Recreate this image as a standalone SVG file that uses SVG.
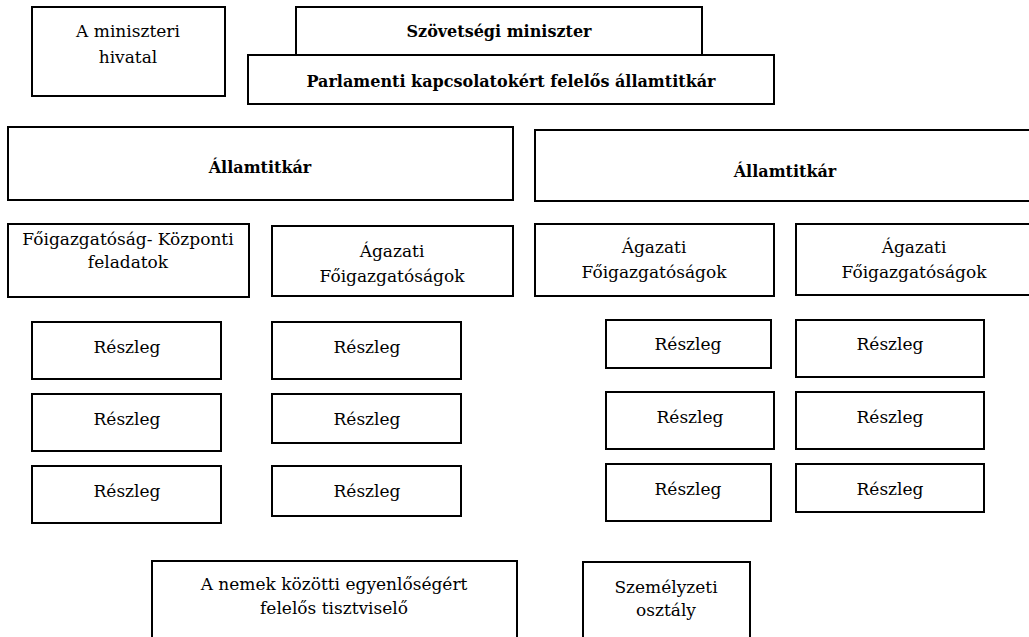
<svg xmlns="http://www.w3.org/2000/svg" width="1029" height="637" viewBox="0 0 1029 637">
<style>
rect{fill:#fff;stroke:#000;stroke-width:2}
text{font-family:"DejaVu Serif","Liberation Serif",serif;font-size:17px;fill:#000;text-anchor:middle}
.b{font-weight:bold;font-size:16px}
</style>
<rect x="0" y="0" width="1029" height="637" style="stroke:none"/>
<g id="miniszteri-hivatal"><rect x="32" y="7" width="193" height="89"/><text x="128" y="37">A miniszteri</text><text x="128" y="63">hivatal</text></g>
<g id="szovetsegi-miniszter"><rect x="296" y="7" width="406" height="60"/><text class="b" x="499" y="37">Szövetségi miniszter</text></g>
<g id="parlamenti"><rect x="248" y="55" width="526" height="49"/><text class="b" x="511" y="87">Parlamenti kapcsolatokért felelős államtitkár</text></g>
<g id="allamtitkar-1"><rect x="8" y="127" width="505" height="73"/><text class="b" x="260" y="173">Államtitkár</text></g>
<g id="allamtitkar-2"><rect x="535" y="130" width="500" height="71"/><text class="b" x="785" y="177">Államtitkár</text></g>
<g id="foigazgatosag-kozponti"><rect x="8" y="224" width="241" height="73"/><text x="128" y="245">Főigazgatóság- Központi</text><text x="128" y="268">feladatok</text></g>
<g id="agazati-1"><rect x="272" y="226" width="241" height="70"/><text x="392" y="257">Ágazati</text><text x="392" y="282">Főigazgatóságok</text></g>
<g id="agazati-2"><rect x="535" y="224" width="239" height="72"/><text x="654" y="253">Ágazati</text><text x="654" y="278">Főigazgatóságok</text></g>
<g id="agazati-3"><rect x="796" y="224" width="239" height="71"/><text x="914" y="253">Ágazati</text><text x="914" y="278">Főigazgatóságok</text></g>
<g id="reszleg-1-1"><rect x="32" y="322" width="189" height="57"/><text x="127" y="353">Részleg</text></g>
<g id="reszleg-1-2"><rect x="32" y="394" width="189" height="57"/><text x="127" y="425">Részleg</text></g>
<g id="reszleg-1-3"><rect x="32" y="466" width="189" height="57"/><text x="127" y="497">Részleg</text></g>
<g id="reszleg-2-1"><rect x="272" y="322" width="189" height="57"/><text x="367" y="353">Részleg</text></g>
<g id="reszleg-2-2"><rect x="272" y="394" width="189" height="49"/><text x="367" y="425">Részleg</text></g>
<g id="reszleg-2-3"><rect x="272" y="466" width="189" height="50"/><text x="367" y="497">Részleg</text></g>
<g id="reszleg-3-1"><rect x="606" y="320" width="165" height="48"/><text x="688" y="350">Részleg</text></g>
<g id="reszleg-3-2"><rect x="606" y="392" width="168" height="57"/><text x="690" y="423">Részleg</text></g>
<g id="reszleg-3-3"><rect x="606" y="464" width="165" height="57"/><text x="688" y="495">Részleg</text></g>
<g id="reszleg-4-1"><rect x="796" y="320" width="188" height="57"/><text x="890" y="350">Részleg</text></g>
<g id="reszleg-4-2"><rect x="796" y="392" width="188" height="57"/><text x="890" y="423">Részleg</text></g>
<g id="reszleg-4-3"><rect x="796" y="464" width="188" height="48"/><text x="890" y="495">Részleg</text></g>
<g id="nemek-egyenloseg"><rect x="152" y="561" width="365" height="90"/><text x="334" y="590">A nemek közötti egyenlőségért</text><text x="334" y="614">felelős tisztviselő</text></g>
<g id="szemelyzeti-osztaly"><rect x="583" y="562" width="167" height="90"/><text x="666" y="593">Személyzeti</text><text x="666" y="616">osztály</text></g>
<g id="connectors"></g>
</svg>
